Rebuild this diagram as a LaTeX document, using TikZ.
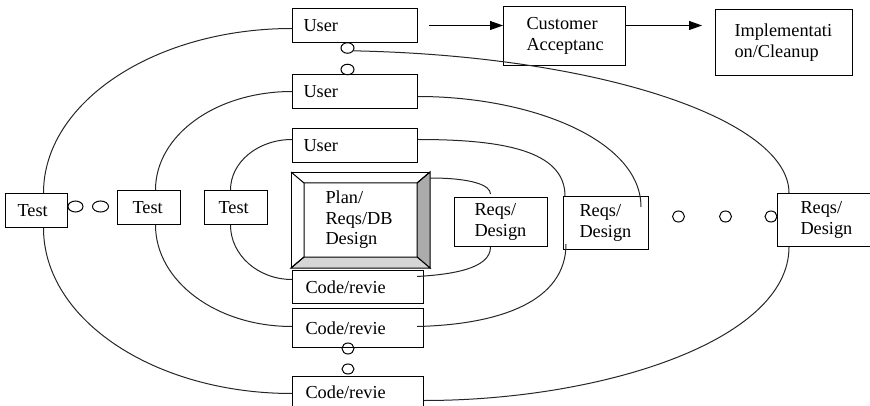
\documentclass[tikz,border=0pt]{standalone}
\usepackage{fontspec}
\setmainfont{Liberation Serif}
\newfontfamily\boxfont{Liberation Serif}
\usetikzlibrary{calc,arrows.meta,shapes.geometric}
\begin{document}
\begin{tikzpicture}[x=1pt,y=-1pt,
  line width=1pt,
  every node/.style={font=\boxfont\fontsize{18.3}{20.5}\selectfont},
  box/.style={draw, rectangle, anchor=north west, inner ysep=0pt, align=left},
  loop/.style={draw=black!85},
  dot/.style={draw, ellipse, inner sep=0pt, minimum width=13pt, minimum height=10.5pt},
  arr/.style={-{Triangle[length=13pt,width=9pt]}}]
\useasboundingbox (0,0) rectangle (870,406);

% phase boxes
\node[box, minimum width=125pt, minimum height=34pt, inner xsep=11pt, text width=103pt] (u1) at (292,8) {User};
\node[box, minimum width=125pt, minimum height=34pt, inner xsep=11pt, text width=103pt] (u2) at (292,74) {User};
\node[box, minimum width=125pt, minimum height=34pt, inner xsep=11pt, text width=103pt] (u3) at (292,128) {User};
\node[box, minimum width=122pt, minimum height=59pt, inner xsep=23pt, text width=76pt] (cust) at (503,6) {Customer\\Acceptanc};
\node[box, minimum width=137pt, minimum height=66pt, inner xsep=19pt, text width=99pt] (impl) at (715,9) {Implementati\\on/Cleanup};
\node[box, minimum width=62pt, minimum height=34pt, inner xsep=12pt, text width=38pt] (t1) at (5,193) {Test};
\node[box, minimum width=63pt, minimum height=34pt, inner xsep=15pt, text width=33pt] (t2) at (117,190) {Test};
\node[box, minimum width=63pt, minimum height=34pt, inner xsep=14pt, text width=35pt] (t3) at (204,190) {Test};
\node[box, minimum width=93pt, minimum height=49pt, inner xsep=20pt, text width=53pt] (r1) at (454,197) {Reqs/\\Design};
\node[box, minimum width=85pt, minimum height=53pt, inner xsep=16pt, text width=53pt] (r2) at (563,196) {Reqs/\\Design};
\node[box, minimum width=98pt, minimum height=53pt, inner xsep=23pt, text width=52pt] (r3) at (777,193) {Reqs/\\Design};
\node[box, minimum width=131pt, minimum height=33pt, inner xsep=13pt, text width=105pt] (c1) at (292,270) {Code/revie};
\node[box, minimum width=131pt, minimum height=39pt, inner xsep=13pt, text width=105pt] (c2) at (292,308) {Code/revie};
\node[box, minimum width=131pt, minimum height=32pt, inner xsep=13pt, text width=105pt] (c3) at (292,376) {Code/revie};

% bevelled planning box
\node[box, minimum width=138pt, minimum height=95pt, inner xsep=34pt, text width=70pt] (plan) at (291,172) {Plan/\\Reqs/DB\\Design};
\coordinate (pnw) at ($(plan.north west)+(13,11)$);
\coordinate (pne) at ($(plan.north east)+(-13,11)$);
\coordinate (pse) at ($(plan.south east)+(-13,-11)$);
\coordinate (psw) at ($(plan.south west)+(13,-11)$);
\filldraw[fill=black!33] (plan.north east) -- (plan.south east) -- (pse) -- (pne) -- cycle;
\filldraw[fill=black!16] (plan.south west) -- (plan.south east) -- (pse) -- (psw) -- cycle;
\draw (plan.north west) -- (pnw) -- (pne) -- (plan.north east);
\draw (pnw) -- (psw) -- (plan.south west);

% continuation marks
\node[dot] (o1) at (347.5,48) {};
\node[dot] (o2) at (347.5,69.5) {};
\node[dot, minimum width=15pt, minimum height=11pt] (o3) at (75.5,206.5) {};
\node[dot, minimum width=16pt, minimum height=11pt] (o4) at (100.5,206.5) {};
\node[dot, minimum width=12pt, minimum height=11pt] (o5) at (678.5,216.5) {};
\node[dot, minimum width=12pt, minimum height=11pt] (o6) at (725.5,216.5) {};
\node[dot, minimum width=12pt, minimum height=11pt] (o7) at (771,216.5) {};
\node[dot, minimum width=12pt, minimum height=11pt] (o8) at (348,348.5) {};
\node[dot, minimum width=12pt, minimum height=10pt] (o9) at (348,369) {};

% flow to acceptance and cleanup
\draw[arr] ($(u1.east)+(11,0)$) -- (u1.east -| cust.west);
\draw[arr] (u1.east -| cust.east) -- ($(u1.east -| impl.west)+(-13,0)$);

% inner loop
\draw[loop] ($(plan.north east)+(0,6)$) .. controls +(41,0) and +(0,-9) .. ($(r1.north)+(-10.5,-3)$);
\draw[loop] ($(r1.south)+(-10.5,0)$) .. controls +(0,22) and +(34,-2) .. ($(c1.east)+(-7,-10.5)$);
\draw[loop] ($(c1.west)+(0,-7.5)$) .. controls +(-34,0) and +(0,30) .. ($(t3.south)+(-5.5,0)$);
\draw[loop] ($(t3.north)+(-5.5,0)$) .. controls +(0,-28) and +(-34,0) .. ($(u3.west)+(0,-6)$);
\draw[loop] ($(u3.east)+(0,-6)$) .. controls +(83,0) and +(0,-46) .. ($(r2.north west)+(2,0)$);

% middle loop
\draw[loop] ($(r2.south west)+(3,-6)$) .. controls +(0,57) and +(84,-2) .. ($(c2.east)+(-7,-1.5)$);
\draw[loop] ($(c2.west)+(0,-1.5)$) .. controls +(-76,0) and +(0,56) .. ($(t2.south)+(6.5,0)$);
\draw[loop] ($(t2.north)+(6.5,0)$) .. controls +(0,-55) and +(-76,0) .. (u2.west);
\draw[loop] ($(u2.east)+(0,5)$) .. controls +(113,0) and +(0,-67) .. ($(r2.north east)+(-8,11)$);

% outer loop
\draw[loop] ($(u1.west)+(0,3)$) .. controls +(-137,0) and +(0,-91) .. ($(t1.north)+(7,0)$);
\draw[loop] ($(t1.south)+(7,0)$) .. controls +(0,92) and +(-137,0) .. ($(c3.west)+(0,1)$);
\draw[loop] ($(c3.east)+(0,8)$) .. controls +(177,0) and +(0,94) .. ($(r3.south west)+(12,0)$);
\draw[loop] ($(r3.north west)+(12,0)$) .. controls +(0,-73) and +(247,5) .. (o1.-25);
\end{tikzpicture}
\end{document}
